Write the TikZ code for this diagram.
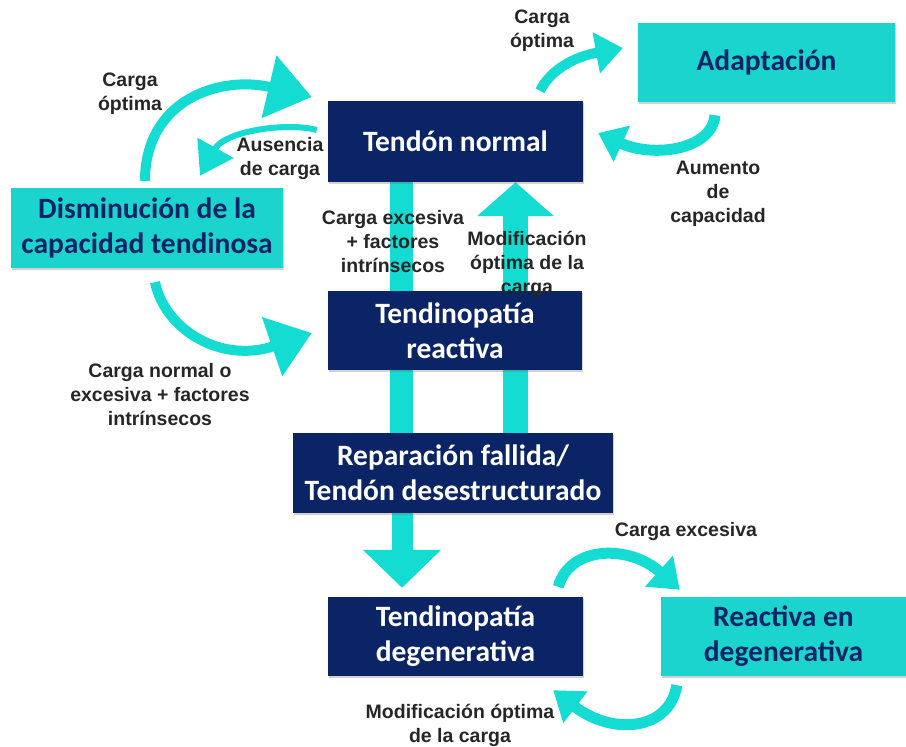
\documentclass[tikz,border=0pt]{standalone}
\usepackage{fontspec}
\setmainfont{Carlito}
\newfontfamily\lblfont{Liberation Sans}
\usepackage{tikz}
\usetikzlibrary{arrows.meta,calc,backgrounds,shadows}
\definecolor{tnavy}{HTML}{0A2466}
\definecolor{tteal}{HTML}{1BD4CD}
\definecolor{tarrow}{HTML}{14DCD2}
\definecolor{tlabel}{HTML}{262626}

\begin{document}
\begin{tikzpicture}[x=1pt, y=-1pt,
    boxshadow/.style={drop shadow={shadow xshift=1pt, shadow yshift=-1.5pt, opacity=0.3, fill=black!60}},
    navybox/.style={fill=tnavy, text=white, boxshadow, font=\bfseries\fontsize{29.5}{35}\selectfont, align=center, inner sep=0pt},
    tealbox/.style={fill=tteal, text=tnavy, boxshadow, font=\bfseries\fontsize{29.5}{35}\selectfont, align=center, inner sep=0pt},
    steplabel/.style={text=tlabel, font=\lblfont\bfseries\fontsize{19.5}{24}\selectfont, align=center, inner sep=0pt},
    bend/.style={draw=tarrow, line width=#1}]
    \useasboundingbox (0,0) rectangle (906,747);

    % boxes
    \node[navybox, minimum width=255pt, minimum height=81pt] (normal) at (455.5,141.5) {Tendón normal};
    \node[tealbox, minimum width=257pt, minimum height=79pt] (adapt) at (766.5,62.5) {Adaptación};
    \node[tealbox, minimum width=272pt, minimum height=80pt] (dism) at (147,228) {Disminución de la\\capacidad tendinosa};
    \node[navybox, minimum width=254pt, minimum height=79pt] (reactiva) at (455,330.5) {Tendinopatía\\reactiva};
    \node[navybox, minimum width=320pt, minimum height=80pt] (repar) at (453,473) {Reparación fallida/\\Tendón desestructurado};
    \node[navybox, minimum width=255pt, minimum height=79pt] (degen) at (455.5,636.5) {Tendinopatía\\degenerativa};
    \node[tealbox, minimum width=245pt, minimum height=79pt] (reacdeg) at (783.5,636.5) {Reactiva en\\degenerativa};

    % straight arrows behind the boxes
    \begin{scope}[on background layer]
        \draw[tarrow, line width=23pt] ($(normal.south)+(-54,0)$) -- ($(repar.north)+(-51.5,0)$);
        \draw[tarrow, line width=25pt, -{Triangle[width=75pt,length=34pt]}] ($(repar.north)+(62.5,0)$) -- ($(normal.south)+(60,0)$);
        \draw[tarrow, line width=21pt, -{Triangle[width=76pt,length=38pt]}] ($(repar.south)+(-51,0)$) -- ($(degen.north)+(-53.5,-9)$);
    \end{scope}

    % curved arrows
    \draw[bend=10pt, -{Triangle[width=62pt,length=44pt]}] ($(dism.north)+(-2,-7)$) .. controls +(0,-81) and +(-92,-22) .. ($(normal.west)+(-16,-44.5)$);
    \draw[bend=6pt, -{Triangle[width=40pt,length=32pt]}] ($(normal.west)+(-11,-11.5)$) .. controls +(-30,-8) and +(25,-45) .. ($(dism.north)+(53,-12)$);
    \draw[bend=10pt, -{Triangle[width=40pt,length=27pt]}] ($(normal.north)+(84.5,-10)$) .. controls +(10,-20) and +(-50,9) .. ($(adapt.west)+(-15,-14.5)$);
    \draw[bend=11pt, -{Triangle[width=38pt,length=26pt]}] ($(adapt.south)+(-51.5,13)$) .. controls +(-3,35) and +(55,25) .. ($(normal.east)+(15,-8.5)$);
    \draw[bend=10pt, -{Triangle[width=60pt,length=42pt]}] ($(dism.south)+(8,14)$) .. controls +(10,48) and +(-90,31) .. ($(reactiva.west)+(-16,2.5)$);
    \draw[bend=11pt, -{Triangle[width=40pt,length=28pt]}] ($(degen.north east)+(-25,-10)$) .. controls +(12,-42) and +(-50,-45) .. ($(reacdeg.north west)+(19,-7)$);
    \draw[bend=11pt, -{Triangle[width=38pt,length=28pt]}] ($(reacdeg.south west)+(16,9)$) .. controls +(-7,45) and +(60,46) .. ($(degen.south east)+(-30,14)$);

    % labels
    \node[steplabel] (lbloptA) at (130,94) {Carga\\óptima};
    \node[steplabel] (lblaus) at (280,158) {Ausencia\\de carga};
    \node[steplabel] (lbloptB) at (542,31) {Carga\\óptima};
    \node[steplabel] (lblaum) at (718,194) {Aumento\\de\\capacidad};
    \node[steplabel] (lblnorm) at (160,395) {Carga normal o\\excesiva + factores\\intrínsecos};
    \node[steplabel] (lblexcA) at (393,242) {Carga excesiva\\+ factores\\intrínsecos};
    \node[steplabel] (lblmodA) at (527,264) {Modificación\\óptima de la\\carga};
    \node[steplabel] (lblexcB) at (686,531) {Carga excesiva};
    \node[steplabel] (lblmodB) at (460,725) {Modificación óptima\\de la carga};
\end{tikzpicture}
\end{document}
